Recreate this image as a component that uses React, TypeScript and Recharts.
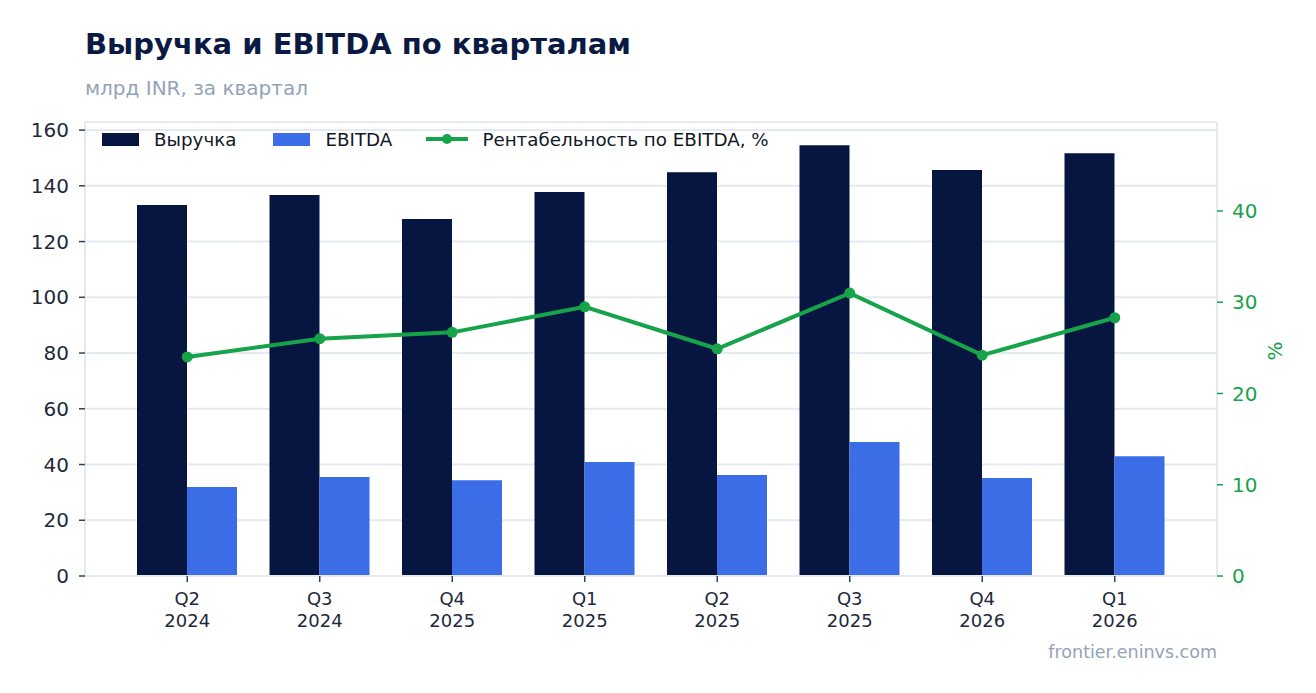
import React from "react";
import { ComposedChart, Bar, Line, XAxis, YAxis, CartesianGrid } from "recharts";

// значения (млрд INR и %)
const quarters = ["Q2", "Q3", "Q4", "Q1", "Q2", "Q3", "Q4", "Q1"];
const years = ["2024", "2024", "2025", "2025", "2025", "2025", "2026", "2026"];
const revenue = [133.1, 136.7, 128.1, 137.8, 144.9, 154.6, 145.7, 151.7];
const ebitda = [31.9, 35.5, 34.4, 40.9, 36.2, 48.1, 35.2, 43.0];
const margin = [24.0, 26.0, 26.7, 29.5, 24.9, 31.0, 24.2, 28.3];
const leftTicks = [0, 20, 40, 60, 80, 100, 120, 140, 160];
const rightTicks = [0, 10, 20, 30, 40];

const NAVY = "#061640";
const BLUE = "#3a6de6";
const GREEN = "#16a34a";
const GRID = "#e5e9f0";
const FONT = "DejaVu Sans, sans-serif";

const data = quarters.map((q, i) => ({
  label: `${q} ${years[i]}`,
  revenue: revenue[i],
  ebitda: ebitda[i],
  margin: margin[i],
}));

const QuarterTick = (props: any) => {
  const { x, y, payload } = props;
  const [q, yr] = String(payload.value).split(" ");
  return (
    <g transform={`translate(${x},${y})`}>
      <text textAnchor="middle" fill="#1e293b" fontSize={18} fontFamily={FONT}>
        <tspan x={0} dy={20.5}>{q}</tspan>
        <tspan x={0} dy={22}>{yr}</tspan>
      </text>
    </g>
  );
};

const ChartLegend = () => (
  <div
    style={{
      position: "absolute",
      left: 102,
      top: 129,
      height: 20,
      display: "flex",
      alignItems: "center",
      fontFamily: FONT,
      fontSize: 18.3,
      color: "#111827",
      whiteSpace: "nowrap",
      pointerEvents: "none",
    }}
  >
    <span style={{ width: 37, height: 13, background: NAVY, display: "inline-block" }} />
    <span style={{ marginLeft: 15, marginRight: 37 }}>Выручка</span>
    <span style={{ width: 37, height: 13, background: BLUE, display: "inline-block" }} />
    <span style={{ marginLeft: 15, marginRight: 34 }}>EBITDA</span>
    <svg width={42} height={14}>
      <line x1={0} y1={7} x2={42} y2={7} stroke={GREEN} strokeWidth={4} />
      <circle cx={21} cy={7} r={5} fill={GREEN} />
    </svg>
    <span style={{ marginLeft: 14 }}>Рентабельность по EBITDA, %</span>
  </div>
);

export default function App() {
  return (
    <div style={{ position: "relative", width: 1316, height: 693, background: "#fff" }}>
      <style>{`body{margin:0}`}</style>
      <ComposedChart
        width={1316}
        height={693}
        data={data}
        margin={{ top: 122, right: 39, bottom: 77, left: 25 }}
        barGap={0}
      >
        <CartesianGrid yAxisId="left" vertical={false} stroke={GRID} strokeWidth={2} />
        <XAxis
          dataKey="label"
          height={40}
          padding={{ left: 36, right: 36 }}
          tick={<QuarterTick />}
          tickSize={6}
          tickMargin={2}
          axisLine={{ stroke: GRID, strokeWidth: 2 }}
          tickLine={{ stroke: "#334155", strokeWidth: 1.5 }}
          interval={0}
        />
        <YAxis
          yAxisId="left"
          width={60}
          domain={[0, 162.9]}
          ticks={leftTicks}
          tickSize={6}
          tickMargin={10}
          axisLine={{ stroke: GRID, strokeWidth: 2 }}
          tickLine={{ stroke: "#334155", strokeWidth: 1.5 }}
          tick={{ fill: "#1e293b", fontSize: 20, fontFamily: FONT }}
        />
        <YAxis
          yAxisId="right"
          orientation="right"
          width={60}
          domain={[0, 49.75]}
          ticks={rightTicks}
          tickSize={6}
          tickMargin={9}
          axisLine={{ stroke: GRID, strokeWidth: 2 }}
          tickLine={{ stroke: GREEN, strokeWidth: 1.5 }}
          tick={{ fill: GREEN, fontSize: 20, fontFamily: FONT }}
        />
        <Bar yAxisId="left" dataKey="revenue" name="Выручка" fill={NAVY} barSize={50} isAnimationActive={false} />
        <Bar yAxisId="left" dataKey="ebitda" name="EBITDA" fill={BLUE} barSize={50} isAnimationActive={false} />
        <Line
          yAxisId="right"
          dataKey="margin"
          name="Рентабельность по EBITDA, %"
          stroke={GREEN}
          strokeWidth={4}
          dot={{ r: 5.5, fill: GREEN, stroke: GREEN, strokeWidth: 0 }}
          isAnimationActive={false}
        />
      </ComposedChart>
      <ChartLegend />
      <svg width={1316} height={693} style={{ position: "absolute", left: 0, top: 0, pointerEvents: "none" }}>
        <text x={85} y={53.5} fontFamily={FONT} fontWeight="bold" fontSize={29} fill="#0b1a42">
          Выручка и EBITDA по кварталам
        </text>
        <text x={85} y={95} fontFamily={FONT} fontSize={20} fill="#94a3b8">
          млрд INR, за квартал
        </text>
        <text
          x={1275}
          y={351}
          fontFamily={FONT}
          fontSize={20}
          fill={GREEN}
          textAnchor="middle"
          dominantBaseline="central"
          transform="rotate(-90 1275 351)"
        >
          %
        </text>
        <text x={1217} y={658} fontFamily={FONT} fontSize={17.5} fill="#94a3b8" textAnchor="end">
          frontier.eninvs.com
        </text>
      </svg>
    </div>
  );
}
